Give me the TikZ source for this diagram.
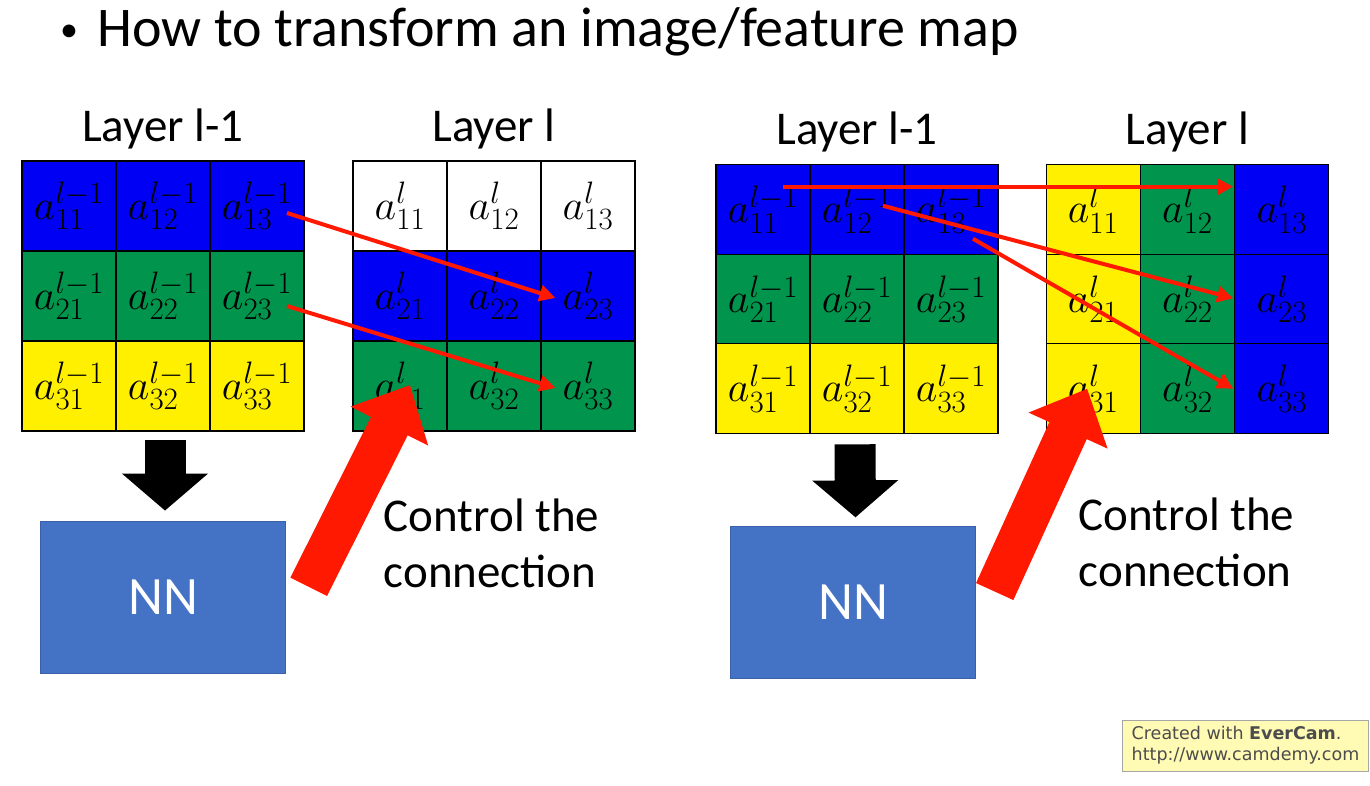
\RequirePackage{fix-cm}
\documentclass[tikz,border=0pt]{standalone}
\usepackage{fontspec}
\setmainfont{Carlito}
\newfontfamily\camfont{DejaVu Sans}
\DeclareMathSizes{42}{42}{31}{24}
\usepackage{tikz}
\usetikzlibrary{arrows.meta,positioning,calc}
\definecolor{cellblue}{RGB}{0,0,245}
\definecolor{cellgreen}{RGB}{0,148,76}
\definecolor{cellyellow}{RGB}{255,240,0}
\definecolor{nnblue}{RGB}{68,114,196}
\definecolor{linkred}{RGB}{255,25,0}
\definecolor{camyellow}{RGB}{255,250,180}

\begin{document}
\begin{tikzpicture}[
	x=1pt, y=-1pt,
	>={Triangle[length=16pt,width=16pt]},
	cell/.style={
		rectangle,
		draw=black,
		line width=1.2pt,
		minimum width=94pt,
		minimum height=90pt,
		inner sep=0pt,
		font=\fontsize{42}{46}\selectfont
	},
	layer/.style={
		anchor=base,
		inner sep=0pt,
		font=\fontsize{47}{52}\selectfont
	},
	nn/.style={
		rectangle,
		fill=nnblue,
		draw=nnblue!85!black,
		minimum width=245pt,
		minimum height=152pt,
		text=white,
		font=\fontsize{54}{60}\selectfont
	},
	control/.style={
		anchor=north west,
		align=left,
		inner sep=0pt,
		font=\fontsize{47}{56}\selectfont
	},
	link/.style={
		draw=linkred,
		line width=4pt,
		->
	},
	bigarrow/.style={
		draw=linkred,
		line width=41pt,
		-{Triangle[width=84pt,length=46pt]}
	},
	downarrow/.style={
		draw=black,
		line width=41pt,
		-{Triangle[width=84pt,length=37pt]}
	},
	evercam/.style={
		rectangle,
		draw=gray!70,
		fill=camyellow,
		minimum width=246pt,
		minimum height=51pt,
		inner xsep=9pt,
		align=left,
		text=black!70,
		font=\camfont\fontsize{17.5}{21}\selectfont
	}
	]
	\fill[white] (0,0) rectangle (1370,786);
	\useasboundingbox (0,0) rectangle (1370,786);
	
	\node[anchor=base west, inner sep=0pt, font=\fontsize{56}{60}\selectfont] (title) at (60,47)
	{\makebox[37pt][l]{\raisebox{5pt}{\fontsize{36}{36}\selectfont\textbullet}}How to transform an image/feature map};
	
	% We start by placing the grids
	
	% left example, layer l-1
	\foreach \r/\rc in {1/cellblue,2/cellgreen,3/cellyellow}
	\foreach \c in {1,2,3}
	\node[cell, fill=\rc] (A\r\c) at ({22+94*\c-47},{161+90*\r-45}) {$a^{l-1}_{\r\c}$};
	
	% left example, layer l
	\foreach \r/\rc in {1/white,2/cellblue,3/cellgreen}
	\foreach \c in {1,2,3}
	\node[cell, fill=\rc] (B\r\c) at ({353+94*\c-47},{161+90*\r-45}) {$a^{l}_{\r\c}$};
	
	% right example, layer l-1
	\foreach \r/\rc in {1/cellblue,2/cellgreen,3/cellyellow}
	\foreach \c in {1,2,3}
	\node[cell, fill=\rc] (C\r\c) at ({716+94*\c-47},{165+89.5*\r-44.75}) {$a^{l-1}_{\r\c}$};
	
	% right example, layer l
	\foreach \c/\cc in {1/cellyellow,2/cellgreen,3/cellblue}
	\foreach \r in {1,2,3}
	\node[cell, fill=\cc] (D\r\c) at ({1046+94.3*\c-47.15},{165+89.5*\r-44.75}) {$a^{l}_{\r\c}$};
	
	\node[layer] (labA) at ($(A12.north)+(0,-19)$) {Layer l-1};
	\node[layer] (labB) at ($(B12.north)+(0,-19)$) {Layer l};
	\node[layer] (labC) at ($(C12.north)+(0,-20)$) {Layer l-1};
	\node[layer] (labD) at ($(D12.north)+(0,-20)$) {Layer l};
	
	% the networks
	\node[nn, below=89pt of A32] (nnL) {NN};
	\node[nn, below=92pt of C32, xshift=-4pt] (nnR) {NN};
	
	\node[control] (ctrlL) at ($(nnL.north east)+(98,-22)$) {Control the\\connection};
	\node[control] (ctrlR) at ($(nnR.north east)+(103,-29)$) {Control the\\connection};
	
	\draw[downarrow] ($(A32.south)+(2,8)$) -- ($(nnL.north)+(2,-10)$);
	\draw[downarrow] ($(C32.south)+(-2,10)$) -- ($(nnR.north)+(2.5,-9)$);
	
	\draw[bigarrow] ($(nnL.east)+(23,-10)$) -- ($(B31.center)+(10,-1)$);
	\draw[bigarrow] ($(nnR.east)+(19,-11)$) -- ($(D31.center)+(-6,0)$);
	
	% connections between the layers
	\draw[link] ($(A13.center)+(30,7)$) -- ($(B23.west)+(15,2)$);
	\draw[link] ($(A23.center)+(30,10)$) -- ($(B33.west)+(15,2)$);
	\draw[link] ($(C11.center)+(20,-23)$) -- ($(D13.west)+(-1,-23)$);
	\draw[link] ($(C12.center)+(26,-4)$) -- ($(D23.west)+(-1,-1)$);
	\draw[link] ($(C13.center)+(22,29)$) -- ($(D33.west)+(-1,0)$);
	
	\node[evercam] (cam) at (1245.5,745.5) {Created with \textbf{EverCam}.\\http://www.camdemy.com};
	
\end{tikzpicture}
\end{document}
